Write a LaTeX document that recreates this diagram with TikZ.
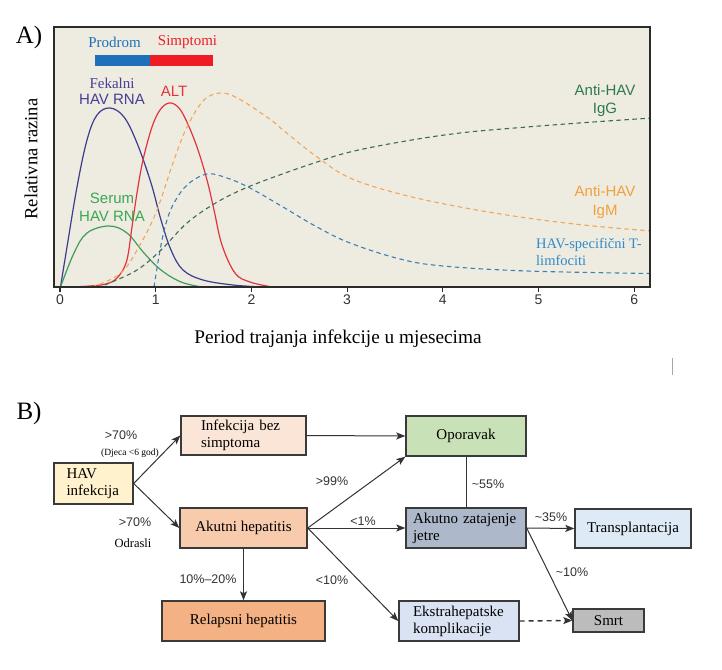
\documentclass[tikz,border=0pt]{standalone}
\usepackage{fontspec}
\setmainfont{Liberation Serif}
\setsansfont{Liberation Sans}
\usepackage{xcolor}
\usetikzlibrary{arrows.meta, positioning}

\definecolor{panel}{HTML}{EEEBE1}
\definecolor{frame}{HTML}{2B2B2B}
\definecolor{boxline}{HTML}{3A3A3A}
\definecolor{linkc}{HTML}{333333}
\definecolor{txtc}{HTML}{333333}
% curves
\definecolor{fekal}{HTML}{3D3D8F}
\definecolor{serum}{HTML}{3D9E5B}
\definecolor{alt}{HTML}{E2343D}
\definecolor{igm}{HTML}{F2A65A}
\definecolor{tcell}{HTML}{3E7FB5}
\definecolor{igg}{HTML}{3C6B58}
% labels
\definecolor{fekallab}{HTML}{4A3D96}
\definecolor{serumlab}{HTML}{3AA753}
\definecolor{igglab}{HTML}{2D7A50}
\definecolor{igmlab}{HTML}{F0A23C}
\definecolor{tlab}{HTML}{2F8BC9}
\definecolor{prodrom}{HTML}{1E70B8}
\definecolor{simpt}{HTML}{EE1C25}
% boxes
\definecolor{havfill}{HTML}{FFF2CC}
\definecolor{bezfill}{HTML}{FBE5D6}
\definecolor{akutfill}{HTML}{F8CBAD}
\definecolor{relfill}{HTML}{F4B183}
\definecolor{opfill}{HTML}{C9E1B6}
\definecolor{zatfill}{HTML}{ADB9CA}
\definecolor{trfill}{HTML}{DEEBF7}
\definecolor{ekfill}{HTML}{DAE3F3}
\definecolor{smrtfill}{HTML}{BCBCBC}

\begin{document}
\begin{tikzpicture}[x=1pt, y=-1pt,
    >={Stealth[length=9pt, width=7pt, inset=2pt]},
    box/.style={draw=boxline, line width=1.4pt, inner sep=0pt,
                font=\fontsize{15}{17}\selectfont},
    link/.style={->, draw=linkc, line width=1pt},
    pct/.style={font=\sffamily\fontsize{12.5}{14}\selectfont, text=txtc, inner sep=0pt},
    curvelab/.style={font=\sffamily\fontsize{15}{18}\selectfont, align=center, inner sep=0pt},
    solidcurve/.style={line width=1.2pt},
    dashcurve/.style={line width=1.1pt, dash pattern=on 4.5pt off 3.5pt},
    ticklab/.style={font=\sffamily\fontsize{14}{16}\selectfont, text=txtc}]

    \useasboundingbox (0,0) rectangle (722,669);
    \fill[white] (0,0) rectangle (722,669);

    % ---------- A) ----------
    \node[font=\fontsize{25}{28}\selectfont] (labA) at (29,37) {A)};
    \fill[panel] (54,27) rectangle (650,287);

    \begin{scope}
        \clip (54,27) rectangle (650,287);
        \draw[fekal, solidcurve] plot[smooth, tension=0.6] coordinates {(60.5,287) (67,247) (77,187) (87,140) (97,115) (110,108) (124,117) (137,143) (151,183) (161,220) (171,250) (183,270) (203,280) (233,285) (262,287)};
        \draw[serum, solidcurve] plot[smooth, tension=0.6] coordinates {(60.5,287) (74,253) (87,233) (109,226) (127,233) (144,253) (161,270) (181,282) (202,287)};
        \draw[alt, solidcurve] plot[smooth, tension=0.6] coordinates {(70,287) (90,286) (106,284) (116,279) (124,268) (128,255) (132,227) (137,193) (143,160) (152,127) (160,110) (169,103) (178,107) (186,120) (197,147) (207,180) (214,210) (222,245) (235,273) (250,282) (272,287)};
        \draw[igm, dashcurve] plot[smooth, tension=0.6] coordinates {(92,287) (121,273) (141,243) (157,210) (174,160) (187,127) (204,100) (222,93) (241,100) (271,120) (283,130) (317,157) (350,178) (400,194) (460,207) (527,218) (593,226) (652,231)};
        \draw[tcell, dashcurve] plot[smooth, tension=0.6] coordinates {(154,287) (158,262) (162,240) (167,220) (174,203) (187,185) (207,174) (227,178) (250,188) (283,207) (317,227) (350,243) (400,259) (443,266) (527,271) (652,273.5)};
        \draw[igg, dashcurve] plot[smooth, tension=0.6] coordinates {(97,287) (107,284) (137,270) (161,250) (187,223) (214,204) (241,190) (274,177) (317,162) (350,152) (400,142) (460,133) (527,127) (593,122) (652,118)};
    \end{scope}
    \draw[frame, line width=1.3pt] (54,27) rectangle (650,287);

    % axis ticks
    \foreach \t in {0,...,6} {
        \draw[frame, line width=1.1pt] (60+95.7*\t,287) -- ++(0,4.5);
        \node[ticklab] (tick\t) at (60+95.7*\t,300) {\t};
    }

    % phases
    \fill[prodrom] (95,55) rectangle (150,66);
    \fill[simpt] (150,55) rectangle (213,66);
    \node[text=prodrom, font=\fontsize{15}{17}\selectfont] (prod) at (114.5,42) {Prodrom};
    \node[text=simpt, font=\fontsize{15}{17}\selectfont] (simp) at (187.5,42) {Simptomi};

    % curve labels
    \node[curvelab, text=fekallab, font=\sffamily\fontsize{15}{15.7}\selectfont] (fekalLab) at (112,91) {{\rmfamily Fekalni}\\HAV RNA};
    \node[curvelab, text=alt] (altLab) at (174,91) {ALT};
    \node[curvelab, text=serumlab, font=\sffamily\fontsize{15}{18.4}\selectfont] (serumLab) at (112,207.5) {Serum\\HAV RNA};
    \node[curvelab, text=igglab] (iggLab) at (605,101) {Anti-HAV\\IgG};
    \node[curvelab, text=igmlab, font=\sffamily\fontsize{15}{19}\selectfont] (igmLab) at (605,202.5) {Anti-HAV\\IgM};
    \node[text=tlab, font=\fontsize{14.5}{17}\selectfont, align=left, inner sep=0pt, anchor=west] (tLab) at (536,251.5) {HAV-specifični T-\\limfociti};

    % axis titles
    \node[rotate=90, font=\fontsize{18.5}{20}\selectfont] (ytitle) at (31,159) {Relativna razina};
    \node[font=\fontsize{19.3}{21}\selectfont] (xtitle) at (338,339) {Period trajanja infekcije u mjesecima};

    \draw[gray!70, line width=0.8pt] (672,358) -- (672,375);

    % ---------- B) ----------
    \node[font=\fontsize{25}{28}\selectfont] (labB) at (29,413) {B)};

    \node[box, fill=havfill, minimum width=79pt, minimum height=41pt, text width=54pt, inner xsep=12.5pt, align=left] (hav) at (93.5,483.5) {HAV\\infekcija};
    \node[box, fill=bezfill, minimum width=125pt, minimum height=39pt, text width=85pt, inner xsep=20pt, align=left] (bez) at (243.5,435.5) {Infekcija bez\\simptoma};
    \node[box, fill=akutfill, minimum width=127pt, minimum height=40pt] (akut) at (243.5,528) {Akutni hepatitis};
    \node[box, fill=relfill, minimum width=163pt, minimum height=40pt] (relaps) at (243.5,621) {Relapsni hepatitis};
    \node[box, fill=opfill, minimum width=120pt, minimum height=40pt] (opor) at (466,436) {Oporavak};
    \node[box, fill=zatfill, minimum width=120pt, minimum height=40pt, text width=106pt, inner xsep=7pt, align=left] (zat) at (466,528) {Akutno zatajenje\\jetre};
    \node[box, fill=trfill, minimum width=116pt, minimum height=39pt] (transp) at (633,528.5) {Transplantacija};
    \node[box, fill=ekfill, minimum width=120pt, minimum height=40pt, text width=92pt, inner xsep=14pt, align=left] (ekstra) at (459,621) {Ekstrahepatske\\komplikacije};
    \node[box, fill=smrtfill, minimum width=71pt, minimum height=23pt] (smrt) at (608.5,620.5) {Smrt};

    \draw[link] (hav.east) -- (bez.west);
    \draw[link] (hav.east) -- (akut.west);
    \draw[link] (bez.east) -- (opor.west);
    \draw[link] (akut.east) -- (opor.south west);
    \draw[link] (akut.east) -- (zat.west);
    \draw[link] (akut.east) -- (ekstra.west);
    \draw[link] (akut.south) -- (relaps.north);
    \draw[draw=linkc, line width=1pt] (opor.south) -- (zat.north);
    \draw[link] (zat.east) -- (transp.west);
    \draw[link] (zat.east) -- (smrt.west);
    \draw[link, line width=1.4pt, dash pattern=on 5pt off 4pt] (ekstra.east) -- (smrt.west);

    \node[pct] (p70a) at (121,435) {>70\%};
    \node[font=\fontsize{9.5}{11}\selectfont, inner sep=0pt] (djeca) at (130,453) {(Djeca <6 god)};
    \node[pct] (p70b) at (135,522) {>70\%};
    \node[font=\fontsize{12.5}{14}\selectfont, inner sep=0pt] (odrasli) at (133,543) {Odrasli};
    \node[pct] (p1020) at (208,579) {10\%–20\%};
    \node[pct] (p10a) at (332,580) {<10\%};
    \node[pct] (p99) at (332,481) {>99\%};
    \node[pct] (p1) at (363,521) {<1\%};
    \node[pct] (p55) at (488,484) {\textasciitilde55\%};
    \node[pct] (p35) at (551,517) {\textasciitilde35\%};
    \node[pct] (p10b) at (572,572) {\textasciitilde10\%};
\end{tikzpicture}
\end{document}
